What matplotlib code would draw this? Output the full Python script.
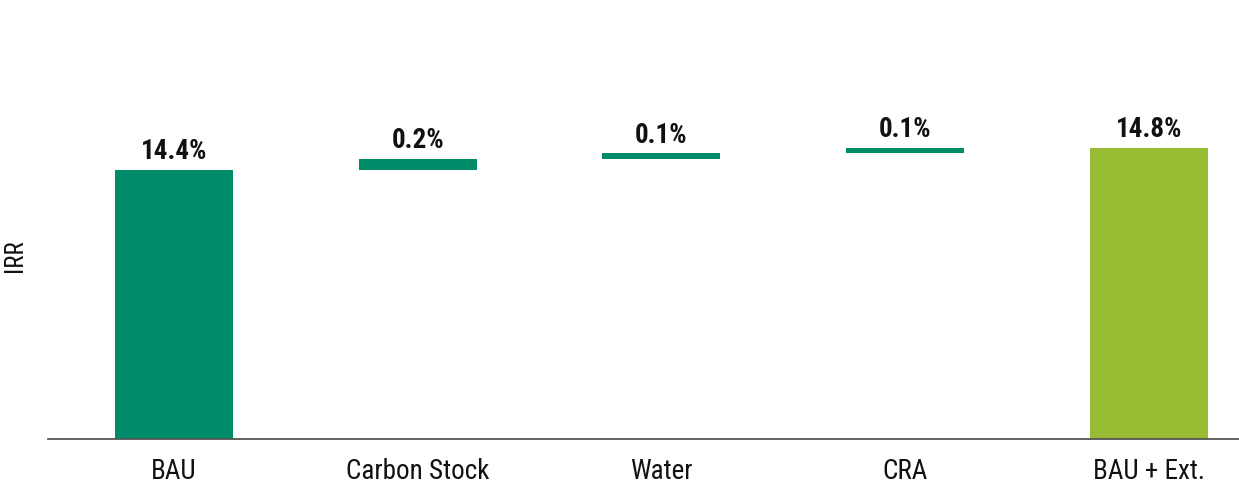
import matplotlib
matplotlib.use("Agg")
import matplotlib.pyplot as plt
from matplotlib import font_manager as fm

# Waterfall de la TIR: escenario BAU más externalidades
categorias = ["BAU", "Carbon Stock", "Water", "CRA", "BAU + Ext."]
valores = [14.4, 0.2, 0.1, 0.1, 14.8]
etiquetas = ["14.4%", "0.2%", "0.1%", "0.1%", "14.8%"]
es_total = [True, False, False, False, True]

verde = "#008c69"
oliva = "#97bc34"

# fuente condensada si existe
fuente = "DejaVu Sans"
for nombre in ["Liberation Sans Narrow", "Roboto Condensed", "Roboto", "Liberation Sans"]:
    try:
        fm.findfont(fm.FontProperties(family=nombre), fallback_to_default=False)
        fuente = nombre
        break
    except Exception:
        pass
plt.rcParams["font.family"] = [fuente, "DejaVu Sans"]

fig = plt.figure(figsize=(12.39, 4.88), dpi=100)
ax = fig.add_axes([0.0387, 0.101, 0.9613, 0.899])

acumulado = 0
for i, (v, tot) in enumerate(zip(valores, es_total)):
    if tot:
        base = 0
        alto = v
        color = oliva if i == len(valores) - 1 else verde
        acumulado = v
    else:
        base = acumulado
        alto = v
        color = verde
        acumulado += v
    ax.bar(i, alto, bottom=base, width=0.484, color=color, zorder=2)
    ax.annotate(etiquetas[i], (i, base + alto), xytext=(0, 3.5),
                textcoords="offset points", ha="center", va="bottom",
                fontsize=19.5, fontweight="bold", color="#111111")

ax.set_xlim(-0.517, 4.37)
ax.set_ylim(9.515, 17.49)
ax.set_xticks(range(len(categorias)))
ax.set_xticklabels(categorias, fontsize=19.5, color="#111111")
ax.tick_params(axis="x", length=0, pad=14)
ax.set_yticks([])

# etiqueta del eje y colocada a mano
fig.text(15 / 1239, 1 - 256 / 488, "IRR", rotation=90, ha="center", va="center",
         fontsize=18, color="#111111")

for lado in ["top", "right", "left"]:
    ax.spines[lado].set_visible(False)
ax.spines["bottom"].set_color("#555555")
ax.spines["bottom"].set_linewidth(1.3)
ax.spines["bottom"].set_zorder(3)

fig.savefig("out.png", dpi=100)
